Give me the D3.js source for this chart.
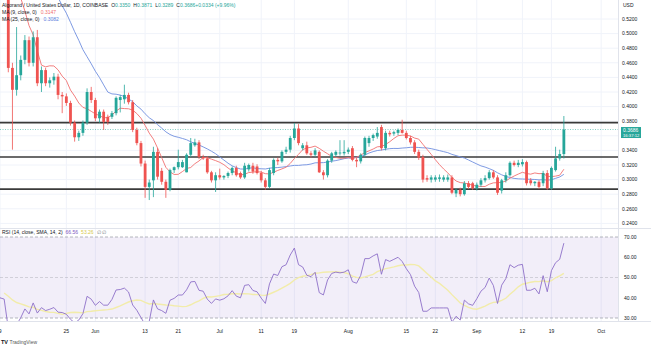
<!DOCTYPE html>
<html><head><meta charset="utf-8">
<script src="https://cdn.jsdelivr.net/npm/d3@7"></script>
<style>
html,body{margin:0;padding:0;background:#fff;overflow:hidden;}
svg{display:block;font-family:"Liberation Sans",Arial,sans-serif;}
</style></head><body>
<svg id="c" width="651" height="347"></svg>
<script>
// ---------------- DATA ----------------
const startDate = "2022-05-11";
const opens = [.625,.453,.423,.443,.464,.491,.460,.495,.432,.450,.432,.436,.441,.416,.414,.405,.378,.358,.364,.378,
.420,.409,.384,.393,.386,.386,.391,.409,.410,.416,.406,.368,.350,.322,.290,.299,.338,.312,.297,.286,
.313,.317,.317,.310,.334,.347,.351,.331,.329,.310,.299,.306,.303,.305,.309,.316,.309,.303,.314,.319,
.318,.309,.299,.290,.309,.327,.325,.338,.341,.357,.370,.343,.347,.336,.334,.338,.310,.306,.326,.334,
.336,.336,.338,.343,.327,.325,.334,.350,.357,.359,.372,.343,.364,.363,.364,.368,.364,.357,.351,.338,
.331,.302,.300,.300,.301,.300,.300,.303,.281,.286,.280,.295,.295,.288,.293,.299,.302,.310,.303,.285,
.299,.306,.323,.320,.321,.324,.299,.295,.297,.295,.309,.288,.313,.329,.3350];
const highs = [.635,.460,.509,.470,.498,.496,.503,.505,.455,.453,.440,.446,.445,.420,.418,.408,.381,.367,.381,.425,
.427,.412,.396,.396,.389,.394,.414,.416,.430,.419,.409,.371,.353,.326,.300,.345,.343,.316,.300,.315,
.318,.341,.327,.336,.357,.356,.354,.334,.332,.312,.310,.315,.306,.311,.318,.319,.311,.323,.322,.323,
.321,.312,.302,.316,.329,.330,.340,.345,.360,.3775,.376,.350,.352,.339,.343,.340,.313,.328,.338,.340,
.354,.354,.344,.346,.330,.336,.359,.360,.363,.372,.375,.367,.367,.367,.370,.382,.367,.360,.354,.341,
.334,.306,.306,.306,.307,.306,.307,.306,.288,.289,.298,.298,.297,.296,.302,.306,.313,.313,.306,.301,
.310,.325,.326,.327,.328,.326,.302,.298,.299,.312,.313,.318,.345,.341,.3871];
const lows = [.447,.341,.415,.436,.458,.455,.455,.428,.420,.428,.426,.430,.410,.391,.401,.374,.352,.353,.360,.375,
.405,.380,.378,.368,.375,.383,.388,.392,.404,.403,.365,.347,.318,.275,.272,.276,.300,.293,.275,.284,
.309,.314,.316,.310,.331,.345,.328,.327,.308,.296,.283,.300,.300,.302,.306,.304,.301,.301,.311,.308,
.307,.296,.286,.288,.306,.320,.323,.335,.337,.354,.347,.340,.334,.330,.331,.309,.300,.303,.323,.331,
.333,.333,.335,.325,.317,.322,.331,.345,.353,.356,.340,.340,.359,.360,.361,.363,.355,.348,.335,.327,
.296,.297,.296,.297,.297,.297,.297,.280,.276,.277,.278,.287,.286,.285,.290,.296,.300,.301,.279,.281,
.296,.304,.318,.317,.318,.292,.292,.291,.287,.291,.286,.286,.311,.326,.3289];
const closes = [.453,.423,.443,.464,.491,.460,.495,.432,.450,.432,.436,.441,.416,.414,.405,.378,.358,.364,.378,.420,
.409,.384,.393,.379,.379,.391,.412,.413,.416,.406,.368,.350,.322,.290,.296,.338,.304,.297,.286,.313,
.317,.324,.324,.334,.350,.351,.331,.329,.310,.299,.306,.303,.305,.309,.316,.306,.303,.319,.320,.311,
.309,.299,.290,.313,.327,.325,.338,.341,.357,.370,.350,.347,.336,.334,.340,.310,.306,.326,.336,.338,
.337,.338,.341,.327,.325,.334,.357,.357,.361,.364,.343,.364,.362,.365,.368,.364,.357,.351,.338,.330,
.300,.300,.303,.303,.303,.303,.303,.282,.286,.280,.295,.290,.288,.293,.299,.302,.310,.303,.282,.299,
.306,.323,.320,.323,.324,.295,.295,.297,.290,.309,.288,.316,.329,.335,.3686];
// closes before the first visible candle (needed to start the indicators)
const priorCloses = [.74,.76,.73,.75,.77,.74,.76,.78,.75,.73,.75,.72,.74,.70,.72,.73,.70,.66,.69,.68,.66,.70,.66,.65,.64,.61,.63,.625];

const priceTicks = [0.24,0.26,0.28,0.30,0.32,0.34,0.36,0.38,0.40,0.42,0.44,0.46,0.48,0.50,0.52];
const rsiTicks = [30,40,50,60,70];
const timeTickDates = ["2022-05-09","2022-05-25","2022-06-01","2022-06-13","2022-06-21","2022-07-01","2022-07-11","2022-07-19","2022-08-01","2022-08-15","2022-08-22","2022-09-01","2022-09-12","2022-09-19","2022-10-01"];
const timeTickLabels = ["9","25","Jun","13","21","Jul","11","19","Aug","15","22","Sep","12","19","Oct"];
const levelLines = [0.378,0.331,0.287];
const lastPrice = 0.3686;
const headerTitle = "Algorand / United States Dollar, 1D, COINBASE";
const headerOHLC = [["O","0.3350"],["H","0.3871"],["L","0.3289"],["C","0.3686"],["","+0.0334 (+9.96%)"]];
const maLegend = [["MA (9, close, 0)","0.3147"],["MA (25, close, 0)","0.3082"]];
const rsiLegend = ["RSI (14, close, SMA, 14, 2)","66.56","53.26"];

// ---------------- CHART ----------------
const svg = d3.select("#c");
const PR = 618, MAIN_B = 228, RSI_T = 228, RSI_B = 321;
const parse = d3.utcParse("%Y-%m-%d");
const start = parse(startDate);
const x = d3.scaleUtc().domain([start, parse("2022-10-01")]).range([8.3, 8.3 + 4.146*143]);
const yP = d3.scaleLinear().domain([0.24,0.52]).range([223.4,19]);
const yR = d3.scaleLinear().domain([30,70]).range([318,237]);

const green = "#26a69a", red = "#ef5350", txt = "#131722", grid = "#f0f3fa";
const allCloses = priorCloses.concat(closes);
const P = priorCloses.length;
const dateAt = k => d3.utcDay.offset(start, k - P);

svg.append("rect").attr("width",651).attr("height",347).attr("fill","#fff");
const defs = svg.append("defs");
defs.append("clipPath").attr("id","cm").append("rect").attr("x",0).attr("y",0).attr("width",PR).attr("height",MAIN_B);
defs.append("clipPath").attr("id","cr").append("rect").attr("x",0).attr("y",RSI_T).attr("width",PR).attr("height",RSI_B-RSI_T);

// grid
const tdates = timeTickDates.map(parse);
svg.append("g").selectAll("line").data(tdates).join("line")
  .attr("x1",d=>x(d)).attr("x2",d=>x(d)).attr("y1",0).attr("y2",RSI_B)
  .attr("stroke",grid).attr("stroke-width",1);
svg.append("g").selectAll("line").data(priceTicks).join("line")
  .attr("x1",0).attr("x2",PR).attr("y1",d=>yP(d)).attr("y2",d=>yP(d))
  .attr("stroke",grid).attr("stroke-width",1);

// main pane
const gm = svg.append("g").attr("clip-path","url(#cm)");
gm.selectAll("line.lv").data(levelLines).join("line").attr("class","lv")
  .attr("x1",0).attr("x2",PR).attr("y1",d=>yP(d)).attr("y2",d=>yP(d))
  .attr("stroke","#3a3a3a").attr("stroke-width",1.6);
gm.append("line").attr("x1",0).attr("x2",PR).attr("y1",yP(lastPrice)).attr("y2",yP(lastPrice))
  .attr("stroke",green).attr("stroke-width",0.7).attr("stroke-dasharray","1,1.5").attr("opacity",0.8);

function sma(arr,len){return arr.map((v,k)=> k<len-1?null:d3.mean(arr.slice(k-len+1,k+1)));}
const ma9 = sma(allCloses,9), ma25 = sma(allCloses,25);
const lineP = d3.line().defined(d=>d.v!=null).x(d=>x(d.d)).y(d=>yP(d.v));
const toPts = arr => arr.map((v,k)=>({d:dateAt(k),v}));
gm.append("path").attr("d",lineP(toPts(ma25))).attr("fill","none").attr("stroke","#6f8fdf").attr("stroke-width",0.9);
gm.append("path").attr("d",lineP(toPts(ma9))).attr("fill","none").attr("stroke","#f07070").attr("stroke-width",0.9);

const candles = closes.map((c,i)=>({d:d3.utcDay.offset(start,i),o:opens[i],h:highs[i],l:lows[i],c}));
const cg = gm.append("g").selectAll("g").data(candles).join("g");
cg.append("line").attr("x1",d=>x(d.d)).attr("x2",d=>x(d.d)).attr("y1",d=>yP(d.h)).attr("y2",d=>yP(d.l))
  .attr("stroke",d=>d.c>=d.o?green:red).attr("stroke-width",0.8);
cg.append("rect").attr("x",d=>x(d.d)-1.4).attr("width",2.8)
  .attr("y",d=>yP(Math.max(d.o,d.c))).attr("height",d=>Math.max(0.8,Math.abs(yP(d.o)-yP(d.c))))
  .attr("fill",d=>d.c>=d.o?green:red);

svg.append("line").attr("x1",0).attr("x2",651).attr("y1",MAIN_B+0.5).attr("y2",MAIN_B+0.5).attr("stroke","#e0e3eb");
svg.append("line").attr("x1",0).attr("x2",651).attr("y1",RSI_B+0.5).attr("y2",RSI_B+0.5).attr("stroke","#e0e3eb");
svg.append("line").attr("x1",PR+0.5).attr("x2",PR+0.5).attr("y1",0).attr("y2",RSI_B).attr("stroke","#e0e3eb");

// RSI (Wilder, 14) and its SMA(14)
function rsiCalc(arr,len){
  const out = arr.map(()=>null); let g=0,l=0;
  for(let k=1;k<=len;k++){const ch=arr[k]-arr[k-1]; if(ch>0) g+=ch; else l-=ch;}
  g/=len; l/=len; out[len]=100-100/(1+g/l);
  for(let k=len+1;k<arr.length;k++){const ch=arr[k]-arr[k-1];
    g=(g*(len-1)+Math.max(ch,0))/len; l=(l*(len-1)+Math.max(-ch,0))/len; out[k]=100-100/(1+g/l);}
  return out;
}
const rsi = rsiCalc(allCloses,14);
const rsiMa = rsi.map((v,k)=> k<14+13 ? null : d3.mean(rsi.slice(k-13,k+1)));
const gr = svg.append("g").attr("clip-path","url(#cr)");
gr.append("rect").attr("x",0).attr("width",PR).attr("y",yR(70)).attr("height",yR(30)-yR(70)).attr("fill","rgba(126,87,194,0.1)");
gr.selectAll("line.rl").data([70,50,30]).join("line").attr("class","rl")
  .attr("x1",0).attr("x2",PR).attr("y1",d=>yR(d)).attr("y2",d=>yR(d))
  .attr("stroke","#9598a1").attr("stroke-width",0.7).attr("stroke-dasharray","3,2").attr("opacity",d=>d==50?0.5:1);
const lineR = d3.line().defined(d=>d.v!=null).x(d=>x(d.d)).y(d=>yR(d.v));
gr.append("path").attr("d",lineR(toPts(rsiMa))).attr("fill","none").attr("stroke","#f2ecaa").attr("stroke-width",1.4);
gr.append("path").attr("d",lineR(toPts(rsi))).attr("fill","none").attr("stroke","#8d6fc8").attr("stroke-width",0.9);

// axis labels
const fs = 5;
svg.append("text").attr("x",623).attr("y",7).attr("font-size",fs).attr("fill",txt).text("USD");
svg.append("g").selectAll("text").data(priceTicks.filter(t=>t!==0.36)).join("text")
  .attr("x",622).attr("y",d=>yP(d)+1.8).attr("font-size",fs).attr("fill",txt).text(d=>d.toFixed(4));
svg.append("g").selectAll("text").data(rsiTicks).join("text")
  .attr("x",624).attr("y",d=>yR(d)+1.8).attr("font-size",fs).attr("fill",txt).text(d=>d.toFixed(2));
svg.append("g").selectAll("text").data(tdates).join("text")
  .attr("x",d=>x(d)).attr("y",333).attr("text-anchor","middle").attr("font-size",fs).attr("fill",txt)
  .text((d,i)=>timeTickLabels[i]);

svg.append("rect").attr("x",621).attr("y",yP(lastPrice)-2.5).attr("width",20).attr("height",11).attr("fill",green);
svg.append("text").attr("x",623).attr("y",yP(lastPrice)+2.3).attr("font-size",fs).attr("fill","#fff").text(lastPrice.toFixed(4));
svg.append("text").attr("x",623).attr("y",yP(lastPrice)+7.3).attr("font-size",4.2).attr("fill","#fff").text("16:37:12");

// legends
const h1 = svg.append("text").attr("x",2).attr("y",7).attr("font-size",fs).attr("fill",txt);
h1.append("tspan").text(headerTitle);
headerOHLC.forEach(([k,v])=>{ h1.append("tspan").attr("dx",k?3:2).text(k); h1.append("tspan").attr("fill",green).text(v); });
maLegend.forEach(([k,v],j)=>{
  const t = svg.append("text").attr("x",2).attr("y",14+j*6.5).attr("font-size",fs).attr("fill",txt);
  t.append("tspan").text(k);
  t.append("tspan").attr("dx",4).attr("fill",j==0?"#f07070":"#5b7fdc").text(v);
});
const rl = svg.append("text").attr("x",2).attr("y",234).attr("font-size",fs).attr("fill",txt);
rl.append("tspan").text(rsiLegend[0]);
rl.append("tspan").attr("dx",3).attr("fill","#7e57c2").text(rsiLegend[1]);
rl.append("tspan").attr("dx",3).attr("fill","#d6c94a").text(rsiLegend[2]);
rl.append("tspan").attr("dx",3).attr("fill","#787b86").text("∅ ∅");

const tv = svg.append("text").attr("x",1).attr("y",344).attr("font-size",5.5).attr("fill","#131722");
tv.append("tspan").attr("font-weight","bold").text("TV");
tv.append("tspan").attr("dx",1.5).attr("font-size",5).attr("fill","#555").text("TradingView");
</script>
</body></html>
